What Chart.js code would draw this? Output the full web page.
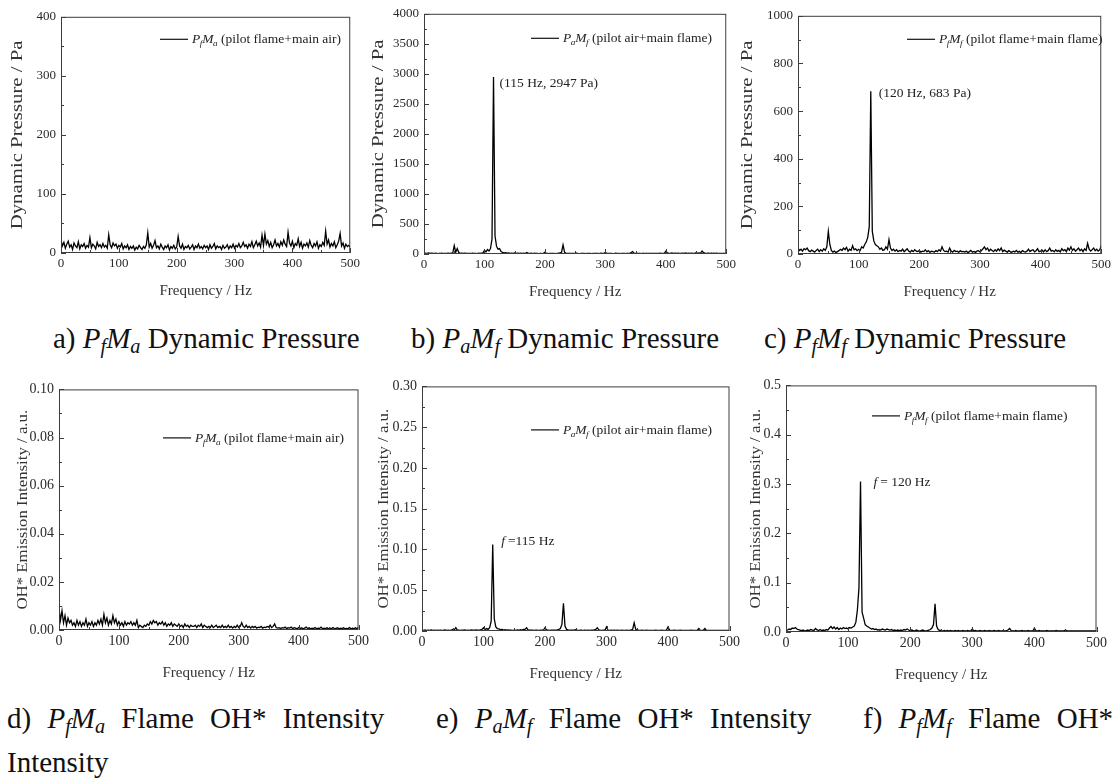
<!DOCTYPE html>
<html>
<head>
<meta charset="utf-8">
<script src="https://cdn.jsdelivr.net/npm/chart.js@4.4.1/dist/chart.umd.min.js"></script>
<style>
  body { margin: 0; background: #fff; width: 1116px; height: 781px; overflow: hidden; position: relative;
         font-family: "Liberation Serif", "Times New Roman", serif; color: #111; }
  .panel { position: absolute; }
  .cap { position: absolute; font-size: 29px; line-height: 1; white-space: nowrap; }
  .cap2 { word-spacing: 9px; }
  sub { font-size: 70%; vertical-align: -0.25em; line-height: 0; }
</style>
</head>
<body>

<div class="cap" style="left:53px;top:324px">a) <i>P<sub>f</sub>M<sub>a</sub></i> Dynamic Pressure</div>
<div class="cap" style="left:411px;top:324px">b) <i>P<sub>a</sub>M<sub>f</sub></i> Dynamic Pressure</div>
<div class="cap" style="left:764px;top:324px">c) <i>P<sub>f</sub>M<sub>f</sub></i> Dynamic Pressure</div>
<div class="cap cap2" style="left:7px;top:704px">d) <i>P<sub>f</sub>M<sub>a</sub></i> Flame OH* Intensity</div>
<div class="cap cap2" style="left:436px;top:704px">e) <i>P<sub>a</sub>M<sub>f</sub></i> Flame OH* Intensity</div>
<div class="cap cap2" style="left:863px;top:704px">f) <i>P<sub>f</sub>M<sub>f</sub></i> Flame OH*</div>
<div class="cap" style="left:7px;top:748px">Intensity</div>

<script>
// frequency axis, Hz (2.5 Hz bins)
const freq = [
  0,2.5,5,7.5,10,12.5,15,17.5,20,22.5,
  25,27.5,30,32.5,35,37.5,40,42.5,45,47.5,
  50,52.5,55,57.5,60,62.5,65,67.5,70,72.5,
  75,77.5,80,82.5,85,87.5,90,92.5,95,97.5,
  100,102.5,105,107.5,110,112.5,115,117.5,120,122.5,
  125,127.5,130,132.5,135,137.5,140,142.5,145,147.5,
  150,152.5,155,157.5,160,162.5,165,167.5,170,172.5,
  175,177.5,180,182.5,185,187.5,190,192.5,195,197.5,
  200,202.5,205,207.5,210,212.5,215,217.5,220,222.5,
  225,227.5,230,232.5,235,237.5,240,242.5,245,247.5,
  250,252.5,255,257.5,260,262.5,265,267.5,270,272.5,
  275,277.5,280,282.5,285,287.5,290,292.5,295,297.5,
  300,302.5,305,307.5,310,312.5,315,317.5,320,322.5,
  325,327.5,330,332.5,335,337.5,340,342.5,345,347.5,
  350,352.5,355,357.5,360,362.5,365,367.5,370,372.5,
  375,377.5,380,382.5,385,387.5,390,392.5,395,397.5,
  400,402.5,405,407.5,410,412.5,415,417.5,420,422.5,
  425,427.5,430,432.5,435,437.5,440,442.5,445,447.5,
  450,452.5,455,457.5,460,462.5,465,467.5,470,472.5,
  475,477.5,480,482.5,485,487.5,490,492.5,495,497.5,
  500
];

// a) PfMa dynamic pressure, Pa
const pressPfMa = [
  22,12,18,8,15,20,10,14,6,17,
  12,9,19,7,14,11,16,8,13,10,
  26,9,15,12,7,18,11,14,9,16,
  10,13,8,31,14,9,17,12,15,8,
  13,10,16,7,12,9,14,6,11,8,
  12,5,10,7,13,9,6,11,8,14,
  34,10,16,8,13,21,9,12,7,15,
  10,6,12,9,14,5,11,8,13,7,
  10,28,12,8,15,6,11,9,13,7,
  10,14,6,12,9,15,8,11,7,13,
  9,12,6,14,8,11,16,7,12,9,
  11,6,13,8,10,14,7,12,9,15,
  8,13,10,16,9,12,18,11,14,8,
  15,11,19,9,14,20,12,17,10,30,
  13,32,15,21,11,18,9,14,22,12,
  16,10,19,13,22,15,11,35,17,12,
  20,9,16,13,24,11,18,8,15,12,
  17,10,21,13,9,16,12,19,8,14,
  11,18,13,37,15,22,10,16,12,19,
  9,14,20,33,12,17,8,15,11,13,
  10
];

// b) PaMf dynamic pressure, Pa
const pressPaMf = [
  20,15,12,18,10,14,9,12,15,8,
  12,10,14,8,11,9,13,10,15,12,
  140,30,90,25,12,15,10,14,9,12,
  10,8,13,9,11,7,12,10,15,20,
  60,35,75,50,90,250,2947,300,130,80,
  90,40,25,18,22,15,20,12,16,10,
  18,12,15,9,13,11,14,8,25,12,
  10,14,8,12,9,11,7,10,8,12,
  30,10,12,8,11,9,10,7,12,15,
  20,25,150,30,12,10,8,11,9,10,
  8,12,9,7,10,8,11,6,9,8,
  10,7,9,11,8,10,7,12,9,8,
  28,9,11,8,10,7,9,12,8,10,
  7,11,9,8,12,10,9,25,40,15,
  10,8,11,9,7,12,8,10,9,11,
  8,10,12,9,11,8,13,10,9,12,
  45,20,15,12,18,10,14,11,16,12,
  10,15,12,18,11,14,9,16,12,15,
  20,14,18,12,50,22,15,12,16,11,
  14,10,13,9,12,8,11,10,9,12,
  10
];

// c) PfMf dynamic pressure, Pa
const pressPfMf = [
  25,15,20,12,22,18,25,14,10,16,
  12,8,15,20,10,18,12,22,15,30,
  95,40,15,8,12,6,10,14,20,15,
  25,18,28,12,20,15,35,18,22,14,
  20,15,30,25,40,50,70,115,683,95,
  55,40,35,30,20,25,15,18,30,20,
  60,25,15,20,12,18,10,15,12,20,
  10,16,22,12,8,15,10,18,12,10,
  15,8,12,10,18,9,14,7,12,10,
  8,14,10,18,12,30,15,10,12,8,
  25,12,8,15,10,12,7,14,9,11,
  8,12,6,10,15,8,11,7,12,14,
  9,15,22,30,18,25,12,20,15,10,
  18,12,22,14,25,10,16,12,8,14,
  10,7,12,9,15,8,11,6,14,10,
  8,12,20,10,15,18,9,14,22,10,
  12,16,9,18,10,14,25,12,15,9,
  18,11,15,9,22,14,18,10,25,16,
  30,15,22,12,18,25,14,20,10,22,
  15,45,20,12,18,25,14,20,12,18,
  35
];

// d) PfMa OH* emission, a.u.
const ohPfMa = [
  0.009,0.004,0.008,0.003,0.006,0.002,0.005,0.003,0.004,0.002,
  0.003,0.0015,0.004,0.002,0.0035,0.0015,0.003,0.002,0.0045,0.0015,
  0.003,0.002,0.0035,0.0015,0.003,0.002,0.004,0.0025,0.0045,0.002,
  0.0065,0.003,0.005,0.002,0.004,0.0025,0.006,0.003,0.0045,0.002,
  0.0035,0.002,0.003,0.0015,0.0035,0.002,0.003,0.0025,0.0035,0.002,
  0.003,0.002,0.004,0.001,0.002,0.0015,0.001,0.002,0.0015,0.0025,
  0.002,0.0035,0.0025,0.004,0.003,0.0035,0.002,0.003,0.0025,0.0035,
  0.002,0.003,0.0015,0.0025,0.002,0.003,0.0015,0.0025,0.002,0.0015,
  0.0025,0.0015,0.002,0.001,0.0025,0.0015,0.002,0.001,0.002,0.0015,
  0.0015,0.002,0.001,0.002,0.0015,0.0025,0.001,0.002,0.0015,0.001,
  0.0015,0.001,0.002,0.001,0.0015,0.002,0.001,0.0015,0.001,0.002,
  0.001,0.0015,0.001,0.002,0.001,0.0015,0.0008,0.0015,0.001,0.002,
  0.001,0.0015,0.003,0.0015,0.001,0.002,0.001,0.0015,0.0008,0.0015,
  0.001,0.0015,0.0008,0.0012,0.001,0.0015,0.0008,0.0012,0.001,0.0015,
  0.0012,0.002,0.001,0.0015,0.0025,0.001,0.0008,0.001,0.0006,0.001,
  0.0008,0.0012,0.0006,0.001,0.0008,0.0012,0.0006,0.001,0.0008,0.0005,
  0.001,0.0006,0.0009,0.0005,0.0008,0.0012,0.0006,0.0009,0.0005,0.0008,
  0.0006,0.001,0.0005,0.0008,0.0006,0.0012,0.0005,0.0008,0.0006,0.0009,
  0.0005,0.0008,0.0006,0.001,0.0005,0.0007,0.0009,0.0005,0.0008,0.0006,
  0.0009,0.0005,0.0007,0.0006,0.001,0.0005,0.0008,0.0006,0.0009,0.0005,
  0.0012
];

// e) PaMf OH* emission, a.u.
const ohPaMf = [
  0.001,0.0008,0.0012,0.0006,0.001,0.0008,0.0012,0.0007,0.001,0.0008,
  0.001,0.0007,0.0011,0.0008,0.0009,0.0012,0.0008,0.001,0.0007,0.0009,
  0.002,0.0015,0.004,0.0012,0.001,0.0008,0.0011,0.0009,0.0012,0.0008,
  0.001,0.0008,0.0012,0.001,0.0009,0.0013,0.001,0.0012,0.0015,0.002,
  0.004,0.0018,0.003,0.002,0.004,0.012,0.106,0.015,0.005,0.003,
  0.0025,0.0018,0.002,0.0012,0.0015,0.001,0.0012,0.0009,0.0011,0.0008,
  0.001,0.0008,0.0012,0.0009,0.0015,0.0012,0.002,0.002,0.004,0.0015,
  0.0012,0.0009,0.001,0.0008,0.0011,0.0009,0.0008,0.001,0.0009,0.0012,
  0.004,0.0012,0.001,0.0008,0.0011,0.0009,0.001,0.0012,0.0015,0.002,
  0.003,0.008,0.034,0.006,0.002,0.0015,0.0012,0.001,0.0009,0.0011,
  0.0015,0.001,0.0008,0.0011,0.0009,0.0008,0.001,0.0007,0.0009,0.0008,
  0.001,0.0012,0.0015,0.002,0.004,0.0015,0.001,0.0008,0.001,0.0009,
  0.005,0.001,0.0008,0.0009,0.0007,0.001,0.0008,0.0009,0.0007,0.0008,
  0.0009,0.0007,0.0008,0.001,0.0008,0.0009,0.0012,0.002,0.010,0.002,
  0.0012,0.0009,0.0008,0.001,0.0007,0.0008,0.0009,0.0007,0.0008,0.0006,
  0.0008,0.0007,0.0009,0.0006,0.0008,0.0007,0.0009,0.0008,0.0007,0.0012,
  0.005,0.0012,0.0008,0.0007,0.0009,0.0006,0.0008,0.0007,0.0009,0.0006,
  0.0008,0.0007,0.0006,0.0008,0.0007,0.0009,0.0006,0.0008,0.0007,0.0006,
  0.003,0.0008,0.0007,0.0009,0.003,0.0008,0.0006,0.0007,0.0008,0.0006,
  0.0007,0.0006,0.0008,0.0007,0.0006,0.0008,0.0007,0.0006,0.0007,0.0006,
  0.0008
];

// f) PfMf OH* emission, a.u.
const ohPfMf = [
  0.003,0.004,0.006,0.005,0.008,0.007,0.009,0.006,0.005,0.004,
  0.003,0.004,0.002,0.003,0.004,0.003,0.005,0.004,0.003,0.007,
  0.004,0.003,0.005,0.003,0.004,0.003,0.005,0.004,0.008,0.011,
  0.007,0.010,0.006,0.009,0.005,0.008,0.006,0.009,0.007,0.008,
  0.006,0.009,0.008,0.010,0.012,0.02,0.045,0.09,0.305,0.04,
  0.028,0.015,0.012,0.010,0.008,0.006,0.007,0.005,0.006,0.004,
  0.005,0.004,0.006,0.005,0.004,0.006,0.005,0.004,0.005,0.003,
  0.004,0.003,0.004,0.003,0.004,0.003,0.005,0.004,0.006,0.004,
  0.003,0.004,0.003,0.002,0.004,0.003,0.002,0.003,0.004,0.003,
  0.002,0.003,0.004,0.005,0.008,0.015,0.057,0.012,0.005,0.003,
  0.003,0.002,0.003,0.002,0.003,0.002,0.003,0.002,0.002,0.003,
  0.002,0.003,0.002,0.002,0.003,0.002,0.002,0.003,0.002,0.002,
  0.006,0.002,0.003,0.002,0.002,0.003,0.002,0.002,0.003,0.002,
  0.002,0.003,0.002,0.002,0.003,0.002,0.002,0.003,0.002,0.002,
  0.003,0.002,0.003,0.004,0.007,0.003,0.002,0.002,0.003,0.002,
  0.002,0.002,0.003,0.002,0.002,0.002,0.003,0.002,0.002,0.002,
  0.008,0.002,0.002,0.003,0.002,0.002,0.002,0.002,0.003,0.002,
  0.002,0.002,0.002,0.002,0.003,0.002,0.002,0.002,0.002,0.002,
  0.004,0.002,0.002,0.002,0.002,0.002,0.002,0.002,0.002,0.002,
  0.002,0.002,0.002,0.002,0.002,0.002,0.002,0.002,0.002,0.002,
  0.002
];

const xTicks = [0, 100, 200, 300, 400, 500];
const pressTitle = 'Dynamic Pressure / Pa';
const ohTitle = 'OH* Emission Intensity / a.u.';

// padding around each plot box inside its canvas
const PADL = 64, PADT = 10, PADR = 12, PADB = 62;
const FONT = '"Liberation Serif", "Times New Roman", serif';

const panels = [
  { box: [61, 14, 351, 253], values: pressPfMa, ymax: 400, ystep: 100, dec: 0, title: pressTitle,
    titleOff: 43, titleSize: 16, titleStretch: 1.3, xTitleOff: 38, tickSize: 13,
    legend: { dx: 99, dy: 22, segs: [{t:'P',it:1},{t:'f',it:1,sub:1},{t:'M',it:1},{t:'a',it:1,sub:1},{t:' (pilot flame+main air)'}] } },
  { box: [424, 11, 727, 254], values: pressPaMf, ymax: 4000, ystep: 500, dec: 0, title: pressTitle,
    titleOff: 45, titleSize: 16, titleStretch: 1.3, xTitleOff: 38, tickSize: 13,
    legend: { dx: 107, dy: 24, segs: [{t:'P',it:1},{t:'a',it:1,sub:1},{t:'M',it:1},{t:'f',it:1,sub:1},{t:' (pilot air+main flame)'}] },
    note: { x: 125, y: 2860, segs: [{t:'(115 Hz, 2947 Pa)'}] } },
  { box: [798, 13, 1102, 254], values: pressPfMf, ymax: 1000, ystep: 200, dec: 0, title: pressTitle,
    titleOff: 50, titleSize: 16, titleStretch: 1.3, xTitleOff: 38, tickSize: 13,
    legend: { dx: 109, dy: 23, segs: [{t:'P',it:1},{t:'f',it:1,sub:1},{t:'M',it:1},{t:'f',it:1,sub:1},{t:' (pilot flame+main flame)'}] },
    note: { x: 133, y: 680, segs: [{t:'(120 Hz, 683 Pa)'}] } },
  { box: [59, 386, 360, 630], values: ohPfMa, ymax: 0.10, ystep: 0.02, dec: 2, title: ohTitle,
    titleOff: 36, titleSize: 15, titleStretch: 1.12, xTitleOff: 43, tickSize: 14,
    legend: { dx: 104, dy: 48, segs: [{t:'P',it:1},{t:'f',it:1,sub:1},{t:'M',it:1},{t:'a',it:1,sub:1},{t:' (pilot flame+main air)'}] } },
  { box: [422, 383, 731, 631], values: ohPaMf, ymax: 0.30, ystep: 0.05, dec: 2, title: ohTitle,
    titleOff: 38, titleSize: 15, titleStretch: 1.12, xTitleOff: 43, tickSize: 14,
    legend: { dx: 109, dy: 43, segs: [{t:'P',it:1},{t:'a',it:1,sub:1},{t:'M',it:1},{t:'f',it:1,sub:1},{t:' (pilot air+main flame)'}] },
    note: { x: 129, y: 0.111, segs: [{t:'f',it:1},{t:' =115 Hz'}] } },
  { box: [786, 382, 1098, 632], values: ohPfMf, ymax: 0.5, ystep: 0.1, dec: 1, title: ohTitle,
    titleOff: 30, titleSize: 15, titleStretch: 1.12, xTitleOff: 43, tickSize: 14,
    legend: { dx: 86, dy: 30, segs: [{t:'P',it:1},{t:'f',it:1,sub:1},{t:'M',it:1},{t:'f',it:1,sub:1},{t:' (pilot flame+main flame)'}] },
    note: { x: 141, y: 0.306, segs: [{t:'f',it:1},{t:' = 120 Hz'}] } }
];

function drawRich(ctx, segs, x, y, size) {
  let cx = x;
  segs.forEach(s => {
    const fs = s.sub ? size * 0.68 : size;
    ctx.font = (s.it ? 'italic ' : '') + fs + 'px ' + FONT;
    ctx.fillText(s.t, cx, s.sub ? y + size * 0.22 : y);
    cx += ctx.measureText(s.t).width + (s.it && !s.sub ? -0.5 : 0);
  });
}

// frame, inward ticks, titles, legend and notes
const decorPlugin = {
  id: 'decor',
  afterDraw(chart) {
    const p = chart.options.plugins.decor;
    const {ctx, chartArea: a, scales: {x, y}} = chart;
    ctx.save();
    ctx.strokeStyle = '#3c3c3c';
    ctx.lineWidth = 1;
    ctx.strokeRect(a.left + 0.5, a.top + 0.5, a.right - a.left - 1, a.bottom - a.top - 1);

    ctx.beginPath();
    for (let v = 0; v <= 500; v += 50) {
      const px = Math.round(x.getPixelForValue(v)) + 0.5;
      const len = v % 100 === 0 ? 5 : 3;
      ctx.moveTo(px, a.bottom);
      ctx.lineTo(px, a.bottom - len);
    }
    const half = p.ystep / 2;
    for (let k = 0; k * half <= p.ymax + 1e-9; k++) {
      const py = Math.round(y.getPixelForValue(k * half)) + 0.5;
      const len = k % 2 === 0 ? 5 : 3;
      ctx.moveTo(a.left, py);
      ctx.lineTo(a.left + len, py);
    }
    ctx.stroke();

    ctx.fillStyle = '#333';
    // x title
    ctx.font = '15px ' + FONT;
    ctx.textAlign = 'center';
    ctx.textBaseline = 'middle';
    ctx.fillText('Frequency / Hz', (a.left + a.right) / 2, a.bottom + p.xTitleOff);
    // y title, stretched along its length like the source figure
    ctx.save();
    ctx.font = p.titleSize + 'px ' + FONT;
    ctx.translate(a.left - p.titleOff, (a.top + a.bottom) / 2);
    ctx.rotate(-Math.PI / 2);
    ctx.scale(p.titleStretch, 1);
    ctx.fillText(p.title, 0, 0);
    ctx.restore();

    // legend
    ctx.fillStyle = '#222';
    ctx.textAlign = 'left';
    ctx.textBaseline = 'alphabetic';
    const lx = a.left + p.legend.dx, ly = a.top + p.legend.dy;
    ctx.strokeStyle = '#111';
    ctx.lineWidth = 1.2;
    ctx.beginPath();
    ctx.moveTo(lx, ly + 0.5);
    ctx.lineTo(lx + 28, ly + 0.5);
    ctx.stroke();
    drawRich(ctx, p.legend.segs, lx + 32, ly + 4.5, 13.5);

    if (p.note) {
      const nx = x.getPixelForValue(p.note.x), ny = y.getPixelForValue(p.note.y);
      drawRich(ctx, p.note.segs, nx, ny + 4.5, 13.5);
    }
    ctx.restore();
  }
};

panels.forEach(p => {
  const [L, T, R, B] = p.box;
  const w = R - L + PADL + PADR, h = B - T + PADT + PADB;
  const div = document.createElement('div');
  div.className = 'panel';
  div.style.left = (L - PADL) + 'px';
  div.style.top = (T - PADT) + 'px';
  const cv = document.createElement('canvas');
  cv.width = w; cv.height = h;
  cv.style.width = w + 'px'; cv.style.height = h + 'px';
  div.appendChild(cv);
  document.body.appendChild(div);

  new Chart(cv, {
    type: 'line',
    data: {
      datasets: [{
        data: freq.map((f, i) => ({x: f, y: p.values[i]})),
        borderColor: '#000',
        borderWidth: 1.3,
        pointRadius: 0,
        tension: 0,
        fill: false
      }]
    },
    options: {
      responsive: false,
      animation: false,
      devicePixelRatio: 1,
      layout: {padding: {top: PADT, right: PADR, left: 0, bottom: 0}},
      plugins: {
        legend: {display: false},
        tooltip: {enabled: false},
        decor: p
      },
      scales: {
        x: {
          type: 'linear', min: 0, max: 500,
          afterBuildTicks: s => { s.ticks = xTicks.map(v => ({value: v})); },
          ticks: {font: {family: FONT, size: p.tickSize}, color: '#2a2a2a', padding: 3, maxRotation: 0, autoSkip: false},
          grid: {display: false, drawTicks: false},
          border: {display: false},
          afterFit: s => { s.height = PADB; }
        },
        y: {
          type: 'linear', min: 0, max: p.ymax,
          ticks: {stepSize: p.ystep, font: {family: FONT, size: p.tickSize}, color: '#2a2a2a', padding: 5,
                  callback: v => Number(v).toFixed(p.dec)},
          grid: {display: false, drawTicks: false},
          border: {display: false},
          afterFit: s => { s.width = PADL; }
        }
      }
    },
    plugins: [decorPlugin]
  });
});
</script>
</body>
</html>
